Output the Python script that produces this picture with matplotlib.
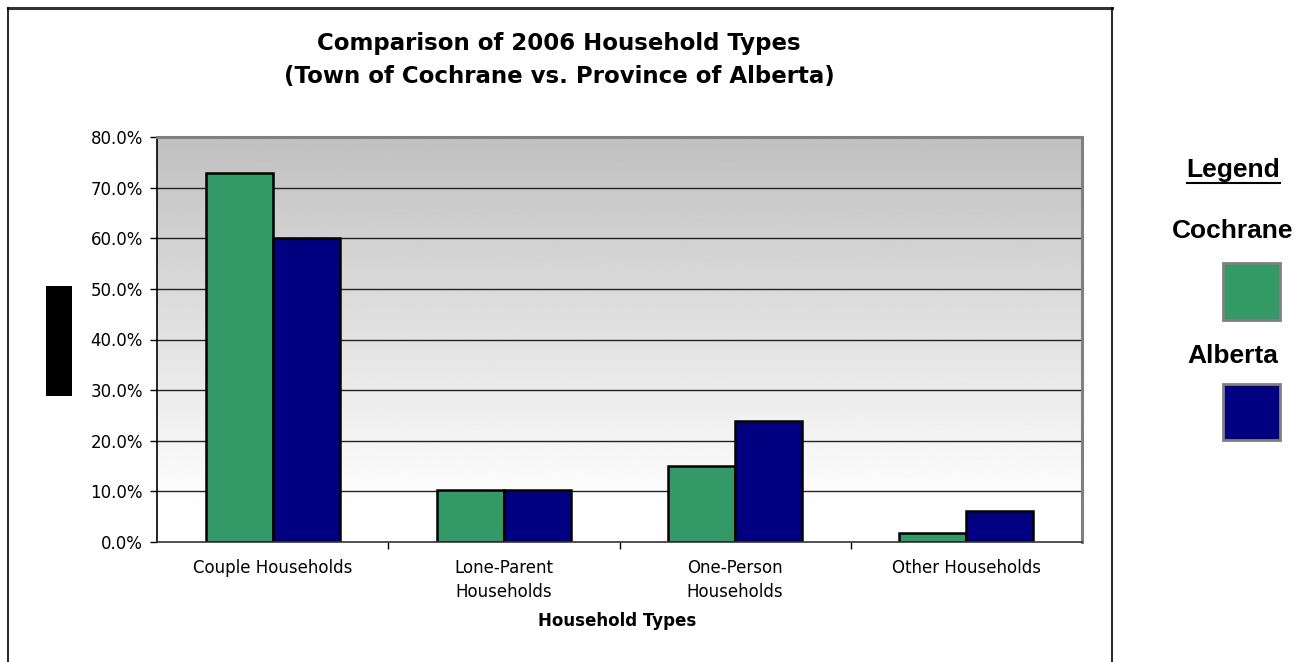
import numpy as np
import matplotlib
matplotlib.use("Agg")
import matplotlib.pyplot as plt
from matplotlib.lines import Line2D
from matplotlib.patches import Rectangle
from matplotlib.font_manager import FontProperties

# Household type shares, 2006 census
categories = ["Couple Households", "Lone-Parent\nHouseholds", "One-Person\nHouseholds", "Other Households"]
cochrane = [72.9, 10.3, 15.0, 1.8]
alberta = [60.1, 10.3, 23.9, 6.1]
series_names = ["Cochrane", "Alberta"]
y_ticks = [0, 10, 20, 30, 40, 50, 60, 70, 80]

GREEN = "#339966"
NAVY = "#000080"

W, H = 1307, 662
fig = plt.figure(figsize=(W / 100, H / 100), dpi=100)
fig.patch.set_facecolor("white")


def fx(px):
    return px / W


def fy(py):
    return 1 - py / H


ax = fig.add_axes([fx(157), fy(542), fx(1082) - fx(157), fy(137) - fy(542)])

# vertical grey-to-white gradient behind the plot
ys = np.linspace(0, 80, 400)
shade = np.clip(192 + (255 - 192) * (80 - ys) / (80 - 7), 192, 255) / 255.0
grad = np.repeat(shade[:, None], 2, axis=1)
ax.imshow(grad, cmap="gray", vmin=0, vmax=1, origin="lower", aspect="auto",
          extent=(-0.5, 3.5, 0, 80), zorder=0, interpolation="bilinear")

ax.set_xlim(-0.5, 3.5)
ax.set_ylim(0, 80)

# gridlines
for v in y_ticks[1:-1]:
    ax.axhline(v, color="#222222", lw=1.0, zorder=1)

x = np.arange(len(categories))
w = 0.29
ax.bar(x - w / 2, cochrane, width=w, color=GREEN, edgecolor="black", linewidth=1.8, zorder=3)
ax.bar(x + w / 2, alberta, width=w, color=NAVY, edgecolor="black", linewidth=1.8, zorder=3)

# axes frame
ax.spines["top"].set_color("#808080")
ax.spines["top"].set_linewidth(2.2)
ax.spines["right"].set_color("#808080")
ax.spines["right"].set_linewidth(2.2)
ax.spines["left"].set_color("black")
ax.spines["left"].set_linewidth(1.2)
ax.spines["bottom"].set_color("#333333")
ax.spines["bottom"].set_linewidth(1.2)
for s in ax.spines.values():
    s.set_zorder(4)

ax.set_yticks(y_ticks)
ax.set_yticklabels([f"{v:.1f}%" for v in y_ticks], fontsize=12, family="DejaVu Sans")
ax.tick_params(axis="y", direction="out", length=5, width=1, pad=5, color="black")

ax.set_xticks(x)
ax.set_xticklabels(categories, fontsize=12, family="DejaVu Sans", linespacing=1.45)
ax.tick_params(axis="x", which="major", length=0, pad=12)
ax.set_xticks([0.5, 1.5, 2.5], minor=True)
ax.tick_params(axis="x", which="minor", direction="out", length=5, width=1, color="black")

# title and axis title
fig.text(fx(559), fy(60), "Comparison of 2006 Household Types\n(Town of Cochrane vs. Province of Alberta)",
         ha="center", va="center", fontsize=16.5, fontweight="bold", family="DejaVu Sans",
         linespacing=1.6)
fig.text(fx(617), fy(621), "Household Types", ha="center", va="center",
         fontsize=12, fontweight="bold", family="DejaVu Sans")

# outer chart frame
fig.add_artist(Line2D([fx(8), fx(1112)], [fy(8), fy(8)], color="#333333", lw=2.2))
fig.add_artist(Line2D([fx(8), fx(8)], [fy(8), fy(662)], color="black", lw=1.2))
fig.add_artist(Line2D([fx(1112), fx(1112)], [fy(8), fy(662)], color="black", lw=1.2))

# obscured axis title block
fig.add_artist(Rectangle((fx(46), fy(396)), fx(72) - fx(46), fy(286) - fy(396),
                         facecolor="black", edgecolor="none"))

# legend panel
legend_font = FontProperties(family="Liberation Sans", weight="bold", stretch="normal", size=19)
fig.text(fx(1233), fy(170), "Legend", ha="center", va="center", fontproperties=legend_font)
fig.add_artist(Line2D([fx(1187), fx(1280)], [fy(183), fy(183)], color="black", lw=1.5))
fig.text(fx(1233), fy(231), series_names[0], ha="center", va="center", fontproperties=legend_font)
fig.text(fx(1233), fy(356), series_names[1], ha="center", va="center", fontproperties=legend_font)
fig.add_artist(Rectangle((fx(1223), fy(320)), fx(1280) - fx(1223), fy(263) - fy(320),
                         facecolor=GREEN, edgecolor="#808080", lw=2))
fig.add_artist(Rectangle((fx(1223), fy(440)), fx(1280) - fx(1223), fy(384) - fy(440),
                         facecolor=NAVY, edgecolor="#808080", lw=2))

fig.savefig("out.png", dpi=100)
